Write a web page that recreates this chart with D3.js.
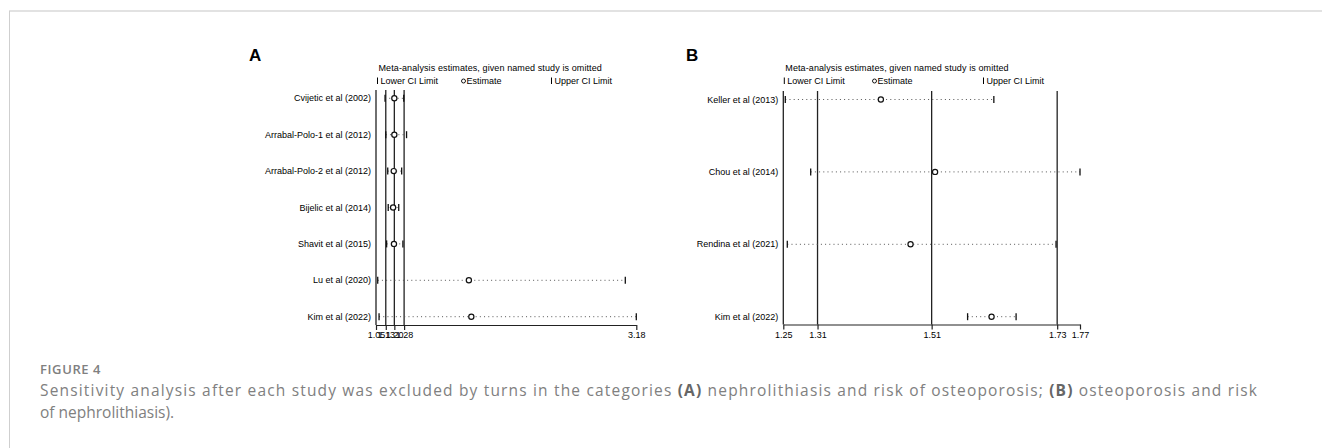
<!DOCTYPE html>
<html>
<head>
<meta charset="utf-8">
<script src="https://cdn.jsdelivr.net/npm/d3@7"></script>
<style>
  html, body { margin: 0; padding: 0; background: #fff; }
  svg { display: block; }
  .lbl { font-family: "Liberation Sans", Arial, sans-serif; font-size: 9px; fill: #000; }
  .cap { font-family: "Open Sans", "Noto Sans", sans-serif; fill: #808080; }
</style>
</head>
<body>
<div id="chart"></div>
<script>
// Panel A: nephrolithiasis and risk of osteoporosis
var studiesA = ["Cvijetic et al (2002)", "Arrabal-Polo-1 et al (2012)", "Arrabal-Polo-2 et al (2012)",
  "Bijelic et al (2014)", "Shavit et al (2015)", "Lu et al (2020)", "Kim et al (2022)"];
var lowerA = [1.124, 1.13, 1.146, 1.15, 1.137, 1.064, 1.075];
var estA   = [1.20, 1.20, 1.195, 1.19, 1.197, 1.81, 1.83];
var upperA = [1.277, 1.30, 1.26, 1.236, 1.27, 3.09, 3.18];
var ticksA = [1.05, 1.13, 1.20, 1.28, 3.18];
var summaryA = [1.13, 1.20, 1.28];   // overall lower CI, estimate, upper CI

// Panel B: osteoporosis and risk of nephrolithiasis
var studiesB = ["Keller et al (2013)", "Chou et al (2014)", "Rendina et al (2021)", "Kim et al (2022)"];
var lowerB = [1.2535, 1.298, 1.257, 1.573];
var estB   = [1.421, 1.516, 1.473, 1.615];
var upperB = [1.619, 1.77, 1.728, 1.658];
var ticksB = [1.25, 1.31, 1.51, 1.73, 1.77];
var summaryB = [1.31, 1.51, 1.73];

var W = 1322, H = 448;
var svg = d3.select("#chart").append("svg").attr("width", W).attr("height", H);

// page frame
svg.append("line").attr("x1", 9).attr("x2", W).attr("y1", 11).attr("y2", 11)
  .attr("stroke", "#e2e2e2").attr("stroke-width", 2);
svg.append("line").attr("x1", 9.5).attr("x2", 9.5).attr("y1", 11).attr("y2", H)
  .attr("stroke", "#cfcfcf").attr("stroke-width", 1);

function drawPanel(cfg) {
  var g = svg.append("g");
  var x = d3.scaleLinear().domain([cfg.ticks[0], cfg.ticks[cfg.ticks.length - 1]]).range(cfg.xr);
  var y = d3.scalePoint().domain(cfg.studies).range(cfg.yr);
  var top = cfg.top, axisY = cfg.axisY;

  // panel letter
  g.append("text").attr("x", cfg.letterX).attr("y", 60.5)
    .style("font-family", "Liberation Sans, Arial, sans-serif").style("font-weight", "bold")
    .style("font-size", "17px").text(cfg.letter);

  // legend
  g.append("text").attr("class", "lbl").attr("x", cfg.legX[0] + 2).attr("y", 71)
    .style("letter-spacing", "0.1px")
    .text("Meta-analysis estimates, given named study is omitted");
  g.append("line").attr("x1", cfg.legX[0] + 1).attr("x2", cfg.legX[0] + 1).attr("y1", 77.5).attr("y2", 84)
    .attr("stroke", "#000");
  g.append("text").attr("class", "lbl").attr("x", cfg.legX[0] + 4).attr("y", 84).text("Lower CI Limit");
  g.append("circle").attr("cx", cfg.legX[1] + 2).attr("cy", 81).attr("r", 2)
    .attr("fill", "none").attr("stroke", "#000").attr("stroke-width", 0.9);
  g.append("text").attr("class", "lbl").attr("x", cfg.legX[1] + 5).attr("y", 84).text("Estimate");
  g.append("line").attr("x1", cfg.legX[2] + 1).attr("x2", cfg.legX[2] + 1).attr("y1", 77.5).attr("y2", 84)
    .attr("stroke", "#000");
  g.append("text").attr("class", "lbl").attr("x", cfg.legX[2] + 4).attr("y", 84).text("Upper CI Limit");

  // left axis line
  g.append("line").attr("x1", x.range()[0]).attr("x2", x.range()[0]).attr("y1", top).attr("y2", axisY)
    .attr("stroke", "#222").attr("stroke-width", 1.3);

  // overall CI / estimate reference lines
  g.selectAll(".ref").data(cfg.summary).enter().append("line")
    .attr("x1", d => x(d)).attr("x2", d => x(d)).attr("y1", top).attr("y2", axisY)
    .attr("stroke", "#222").attr("stroke-width", 1.3);

  // x axis (tick labels overlap in panel A, as in the original)
  var ax = g.append("g").attr("transform", "translate(0," + axisY + ")")
    .call(d3.axisBottom(x).tickValues(cfg.ticks).tickSize(5).tickSizeOuter(0).tickFormat(d3.format(".2f")));
  ax.select(".domain").attr("stroke", "#222").attr("stroke-width", 1.2);
  ax.selectAll(".tick line").attr("stroke", "#222").attr("stroke-width", 1.2);
  ax.selectAll(".tick text").attr("class", "lbl").attr("dy", 0).attr("y", 13)
    .style("font-family", "Liberation Sans, Arial, sans-serif").style("font-size", "9px");

  var rows = cfg.studies.map((s, i) => ({ s: s, lo: cfg.lower[i], est: cfg.est[i], hi: cfg.upper[i] }));

  // study labels
  g.selectAll(".name").data(rows).enter().append("text").attr("class", "lbl")
    .attr("x", x.range()[0] - 5).attr("y", d => y(d.s) + 3).attr("text-anchor", "end").text(d => d.s);

  // dotted CI lines
  g.selectAll(".ci").data(rows).enter().append("line")
    .attr("x1", d => x(d.lo)).attr("x2", d => x(d.hi)).attr("y1", d => y(d.s)).attr("y2", d => y(d.s))
    .attr("stroke", "#555").attr("stroke-width", 1).attr("stroke-dasharray", "1,3.2");

  // lower / upper limit ticks
  ["lo", "hi"].forEach(function(k) {
    g.selectAll(".t" + k).data(rows).enter().append("line")
      .attr("x1", d => x(d[k])).attr("x2", d => x(d[k]))
      .attr("y1", d => y(d.s) - 3.5).attr("y2", d => y(d.s) + 3.5)
      .attr("stroke", "#111").attr("stroke-width", 1.3);
  });

  // estimates
  g.selectAll(".est").data(rows).enter().append("circle")
    .attr("cx", d => x(d.est)).attr("cy", d => y(d.s)).attr("r", 2.6)
    .attr("fill", "#fff").attr("stroke", "#111").attr("stroke-width", 1.2);
}

drawPanel({ letter: "A", letterX: 249, studies: studiesA, lower: lowerA, est: estA, upper: upperA,
  ticks: ticksA, summary: summaryA, xr: [376, 636.3], yr: [98.3, 316.7], top: 90, axisY: 325,
  legX: [376.5, 461.5, 550.5] });
drawPanel({ letter: "B", letterX: 686, studies: studiesB, lower: lowerB, est: estB, upper: upperB,
  ticks: ticksB, summary: summaryB, xr: [783.3, 1080], yr: [99.5, 316.7], top: 91, axisY: 324.5,
  legX: [783.3, 872.5, 982.5] });

// caption (first line is justified to the text width)
svg.append("text").attr("class", "cap").attr("x", 40).attr("y", 374)
  .style("font-size", "13px").style("font-weight", 600).style("letter-spacing", "0.6px")
  .attr("fill", "#7a7a7a").text("FIGURE 4");
var line1 = svg.append("text").attr("class", "cap").attr("x", 40).attr("y", 396).style("font-size", "15.5px")
  .attr("textLength", 1217).attr("lengthAdjust", "spacing");
[["Sensitivity analysis after each study was excluded by turns in the categories ", false], ["(A)", true],
 [" nephrolithiasis and risk of osteoporosis; ", false], ["(B)", true], [" osteoporosis and risk", false]]
  .forEach(function(p) {
    line1.append("tspan").text(p[0]).style("font-weight", p[1] ? 700 : 400).attr("fill", p[1] ? "#666" : "#808080");
  });
svg.append("text").attr("class", "cap").attr("x", 40).attr("y", 418).style("font-size", "15.5px")
  .text("of nephrolithiasis).");
</script>
</body>
</html>
